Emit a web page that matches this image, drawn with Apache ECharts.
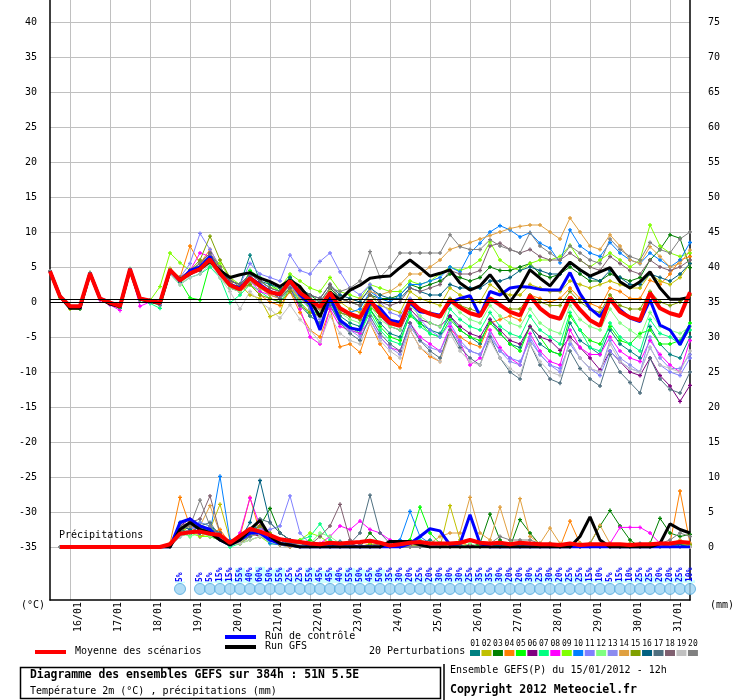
<!DOCTYPE html>
<html>
<head>
<meta charset="utf-8">
<script src="https://cdn.jsdelivr.net/npm/echarts@6/dist/echarts.min.js"></script>
<style>
html, body { margin: 0; padding: 0; background: #fff; }
#main { width: 740px; height: 700px; }
</style>
</head>
<body>
<div id="main"></div>
<script>
// forecast steps every 6h from 15/01 12h, 0..384h
var steps = [];
for (var h = 0; h <= 384; h += 6) steps.push(h);
var dayLabels = ['16/01','17/01','18/01','19/01','20/01','21/01','22/01','23/01','24/01','25/01','26/01','27/01','28/01','29/01','30/01','31/01'];
var tempTicks = [-35, 40, 5];
var precTicks = [0, 75, 5];

var memberColors = ['#008080','#c0c000','#008000','#ff8000','#00ff00','#800080','#00ff80','#ff00ff','#80ff00','#0080ff',
                    '#8080ff','#80ff80','#8c8cf0','#e0a040','#80a000','#006080','#507080','#806070','#c0c0c0','#808080'];

// temperature 2m (°C)
var tMean = [4.4,0.8,-0.6,-0.6, 4.1,0.5,-0.1,-0.6, 4.7,0.5,0.2,-0.1, 4.6,3.1,4.1,4.7, 6.1,4.1,2.4,1.8, 3.4,2.3,1.4,1.1, 3.0,1.3,0.3,-0.7, 1.3,-0.9,-1.7,-2.2, 0.3,-1.6,-3.0,-3.4, 0.2,-1.1,-1.7,-2.1, 0.3,-0.8,-1.6,-2.0, 0.5,-0.4,-1.4,-1.9, 0.9,-0.9,-2.0,-2.4, 0.7,-1.1,-2.6,-3.4, 0.5,-1.4,-2.2,-2.6, 1.3,-0.9,-1.6,-2.0, 1.4];
var tCtrl = [4.4,0.8,-0.7,-0.7, 4.1,0.5,-0.1,-0.6, 4.7,0.5,0.2,-0.1, 4.5,3.0,4.5,5.0, 6.5,4.0,2.5,2.0, 3.5,2.5,1.5,1.0, 3.0,1.0,-0.4,-4.0, 0.7,-2.6,-3.7,-4.0, -0.1,-0.9,-2.6,-2.9, -0.1,-1.4,-1.6,-1.9, -0.1,0.5,0.9,-2.0, 1.5,1.0,2.0,2.2, 2.1,1.8,1.7,1.7, 4.2,1.2,-0.9,-2.1, 0.3,-1.1,-2.3,-2.8, 0.3,-3.3,-4.0,-6.1, -3.3];
var tGfs = [4.4,0.8,-0.9,-0.9, 4.1,0.5,-0.3,-0.7, 4.6,0.4,0.1,-0.2, 4.5,3.2,4.0,4.8, 5.8,4.5,3.5,3.9, 4.2,3.4,2.9,2.2, 3.1,2.2,0.3,-2.1, 1.4,0.3,1.7,2.4, 3.4,3.6,3.7,4.9, 6.0,4.9,3.7,4.1, 4.6,2.7,1.7,2.3, 3.9,2.0,0.0,2.0, 4.6,3.4,2.3,4.1, 5.7,4.6,3.7,4.3, 4.9,2.9,2.0,2.9, 4.3,2.0,0.4,0.4, 0.7];
var t01 = [4.4,0.9,-0.8,-0.9, 4.0,0.6,-0.2,-0.7, 4.6,0.6,0.1,-0.3, 4.3,2.8,4.5,5.5, 7.0,4.5,3.0,2.5, 6.7,3.0,2.0,1.5, 3.5,2.0,0.5,-1.0, 0.5,-2.0,-3.0,-3.5, -1.0,-3.0,-4.5,-5.0, -1.5,-3.0,-4.0,-4.5, -2.0,-4.0,-5.0,-6.0, -2.5,-4.5,-6.0,-6.5, -3.5,-6.0,-7.0,-7.5, -3.0,-5.5,-6.5,-7.5, -4.0,-6.0,-7.0,-8.0, -3.5,-6.0,-7.5,-8.0, -5.0];
var t02 = [4.4,0.7,-1.0,-1.0, 4.2,0.4,-0.3,-0.8, 4.7,0.4,0.1,-0.2, 4.8,3.5,4.0,5.0, 6.5,5.0,3.0,2.5, 1.0,0.5,-2.1,-1.5, 2.5,0.0,-1.5,-2.0, 1.5,0.0,-1.0,-1.5, 1.0,-0.5,-1.0,-1.5, 1.5,0.5,0.0,-0.5, 2.0,1.0,0.5,0.0, 2.5,1.5,1.0,1.0, 2.5,2.0,1.5,1.5, 3.0,2.5,2.0,2.5, 3.0,2.5,2.0,2.0, 4.0,3.0,2.5,3.5, 5.5];
var t03 = [4.4,0.8,-0.7,-0.8, 4.1,0.5,-0.2,-0.6, 4.6,0.5,0.2,-0.2, 4.5,3.0,4.0,4.5, 5.5,4.0,2.0,1.5, 3.0,2.0,1.5,1.0, 3.5,2.0,1.0,0.0, 2.0,0.5,0.0,-0.5, 1.0,0.5,0.5,1.0, 2.5,2.0,2.5,3.0, 4.0,3.5,3.0,3.5, 5.0,4.5,4.5,5.0, 5.5,4.0,3.5,4.0, 5.0,4.0,3.0,3.0, 4.0,3.5,3.0,3.5, 6.0,7.5,9.6,9.1, 4.9];
var t04 = [4.4,0.8,-0.6,-0.7, 4.1,0.5,-0.1,-0.7, 4.7,0.5,0.2,-0.1, 4.5,3.5,8.0,5.5, 7.5,5.0,3.0,1.5, 2.5,1.0,0.0,-0.5, 1.5,-1.5,-4.0,-5.0, -1.0,-6.4,-6.0,-7.2, -3.0,-6.0,-8.0,-9.4, -4.0,-6.5,-7.8,-8.5, -4.0,-5.0,-5.9,-6.4, -3.0,-2.5,-2.0,-2.6, 1.0,0.5,0.0,0.5, 2.0,0.5,-0.2,-0.8, 2.0,1.5,0.5,0.5, 3.1,2.5,4.0,6.0, 6.5];
var t05 = [4.4,0.6,-0.9,-1.0, 4.0,0.4,-0.3,-0.9, 4.5,0.3,0.0,-0.5, 4.5,3.0,0.6,0.3, 5.5,4.0,2.0,1.5, 4.5,3.5,2.5,1.5, 3.5,1.0,-1.0,-2.0, 0.0,-2.5,-3.5,-4.5, -1.0,-3.5,-5.0,-5.5, -2.0,-3.0,-4.5,-5.0, -2.5,-4.0,-5.0,-5.5, -3.0,-4.5,-6.0,-7.0, -3.5,-5.0,-7.0,-7.5, -2.0,-4.0,-5.5,-6.0, -3.5,-5.5,-6.0,-4.5, -4.0,-6.0,-6.0,-5.5, -3.0];
var t06 = [4.4,0.8,-0.8,-0.9, 4.1,0.5,-0.2,-0.8, 4.6,0.4,0.1,-0.2, 4.5,3.0,4.5,5.0, 6.5,4.5,2.5,2.0, 3.0,2.0,1.5,0.5, 2.5,0.5,-0.5,-1.0, 0.5,-1.5,-2.0,-2.5, 0.0,-2.0,-3.5,-4.0, -1.0,-2.5,-3.0,-3.5, -2.0,-3.5,-4.5,-5.0, -2.5,-4.0,-5.5,-6.0, -3.5,-5.0,-5.5,-6.9, -5.0,-6.5,-8.0,-9.7, -7.0,-8.5,-10.0,-10.5, -8.0,-10.5,-12.0,-14.2, -11.9];
var t07 = [4.4,0.8,-0.7,-0.9, 4.1,0.4,-0.2,-0.8, 4.6,0.3,-0.2,-0.9, 4.0,2.5,3.5,4.0, 5.0,3.5,-0.1,1.0, 2.5,1.5,0.5,0.0, 2.0,0.0,-2.0,-3.0, 0.0,-3.0,-4.0,-4.5, -1.5,-4.0,-5.5,-6.0, -1.5,-3.5,-4.5,-5.0, -1.0,-2.5,-3.5,-4.0, -1.5,-3.5,-4.5,-5.0, -2.0,-4.0,-5.0,-6.0, -1.5,-4.0,-6.5,-7.0, -3.0,-5.0,-6.0,-7.0, -2.5,-4.5,-5.0,-6.0, -4.0];
var t08 = [4.4,0.8,-0.8,-0.9, 4.0,0.3,-0.4,-1.2, 4.6,-0.6,0.0,-0.4, 4.5,3.0,4.5,7.0, 6.5,4.0,2.0,1.5, 3.0,1.5,1.0,0.5, 2.0,-1.0,-5.0,-6.0, -1.0,-3.5,-4.0,-4.5, -2.5,-5.0,-6.5,-7.0, -3.0,-5.0,-6.0,-7.0, -3.5,-5.7,-9.0,-8.0, -4.0,-6.5,-8.0,-9.0, -4.5,-7.0,-8.5,-9.0, -4.0,-6.5,-7.5,-7.5, -5.0,-7.0,-8.0,-8.5, -5.5,-7.5,-9.0,-10.0, -5.5];
var t09 = [4.4,0.8,-0.6,-0.6, 4.1,0.5,-0.1,-0.6, 4.7,0.5,0.2,2.2, 7.0,5.6,4.5,5.0, 6.5,5.5,3.5,2.5, 4.0,3.0,2.0,2.0, 4.0,3.0,2.0,1.5, 3.5,1.5,1.0,0.5, 2.5,2.0,1.5,1.5, 3.0,2.5,3.0,4.0, 5.0,4.5,5.0,6.0, 8.6,6.0,5.0,4.5, 5.5,6.0,6.0,6.5, 8.1,6.0,5.0,6.0, 7.0,6.0,5.0,6.0, 11.0,8.0,7.0,6.5, 7.0];
var t10 = [4.4,0.8,-0.7,-0.7, 4.1,0.5,-0.2,-0.7, 4.7,0.5,0.1,-0.2, 4.5,3.0,4.0,5.0, 6.0,4.0,2.5,2.0, 3.5,2.5,1.5,1.0, 3.0,1.5,0.5,-1.0, 1.0,-1.0,-1.5,-1.0, 1.5,0.5,0.0,1.0, 2.5,2.5,3.0,3.5, 5.0,4.3,7.0,8.4, 10.0,10.9,10.3,9.3, 9.9,8.4,7.7,5.6, 10.3,8.0,7.0,6.5, 8.5,7.0,6.0,5.5, 7.0,6.0,5.0,6.0, 8.5];
var t11 = [4.4,0.8,-0.6,-0.7, 4.1,0.5,-0.1,-0.6, 4.7,0.5,0.2,-0.1, 4.5,3.5,5.5,9.8, 7.5,5.0,3.0,2.5, 5.5,4.0,3.5,3.0, 6.7,4.5,4.0,5.8, 7.0,4.3,2.0,1.0, 2.5,0.0,-1.5,-2.0, 0.5,-2.5,-4.0,-5.0, -3.0,-5.5,-7.0,-7.5, -5.0,-7.0,-8.0,-8.5, -5.5,-7.5,-9.0,-9.5, -6.0,-8.0,-9.5,-10.5, -7.0,-8.5,-9.5,-10.0, -6.5,-9.0,-10.0,-10.5, -8.0];
var t12 = [4.4,0.9,-0.5,-0.6, 4.2,0.6,0.0,-0.5, 4.8,0.6,0.3,0.0, 4.0,2.5,4.0,4.5, 6.0,3.5,2.0,1.5, 3.0,2.0,1.0,0.5, 2.5,0.5,-0.5,-1.5, 0.5,-1.5,-2.5,-3.0, -0.5,-2.5,-3.5,-4.0, -0.5,-2.0,-3.0,-3.5, 0.0,-1.5,-2.5,-3.0, -0.5,-2.0,-3.0,-3.5, -1.0,-3.0,-4.0,-4.5, -0.5,-2.5,-3.5,-4.0, -1.0,-3.0,-4.0,-5.0, -1.5,-3.5,-4.0,-4.5, -3.5];
var t13 = [4.4,0.8,-0.7,-0.8, 4.1,0.5,-0.2,-0.7, 4.6,0.4,0.1,-0.3, 4.5,3.0,4.0,5.0, 6.0,4.5,2.5,2.0, 3.5,2.5,1.5,1.0, 2.5,0.5,-1.0,-2.5, -0.5,-3.0,-4.0,-5.0, -2.5,-5.0,-6.5,-7.5, -3.5,-5.5,-6.5,-7.0, -4.0,-6.0,-7.0,-7.5, -4.5,-7.0,-8.5,-9.0, -5.0,-7.5,-9.0,-10.0, -5.5,-8.0,-9.5,-10.0, -5.5,-8.0,-9.0,-10.0, -5.0,-8.0,-9.5,-9.5, -7.5];
var t14 = [4.4,0.8,-0.6,-0.7, 4.1,0.5,-0.1,-0.6, 4.7,0.5,0.2,-0.1, 4.5,3.5,4.5,5.0, 6.0,4.0,2.5,2.0, 3.5,2.0,1.0,0.5, 2.0,0.5,-0.5,-1.0, 1.0,0.0,0.0,0.5, 1.5,1.0,1.5,2.5, 4.0,4.0,5.0,6.0, 7.5,8.0,8.5,9.0, 9.5,10.0,10.5,10.8, 11.0,11.0,10.0,9.0, 12.0,10.0,8.0,7.5, 9.6,8.0,6.0,5.5, 7.9,6.5,5.0,5.5, 7.4];
var t15 = [4.4,0.8,-0.6,-0.6, 4.1,0.5,-0.1,-0.6, 4.7,0.5,0.2,-0.1, 4.5,3.0,4.5,6.0, 9.4,6.0,3.5,2.0, 2.5,1.0,0.5,0.0, 1.5,-0.5,-1.5,-2.0, 0.5,-1.5,-2.0,-2.5, -0.5,-2.0,-2.5,-3.0, 0.0,-1.0,-1.5,-2.0, 0.5,-0.5,-1.0,-1.5, 0.5,-0.5,-1.0,-1.0, 1.0,0.0,-0.5,-0.5, 1.5,0.0,-1.0,-1.5, 1.0,-0.5,-1.0,-1.0, 1.5,0.0,-0.5,0.0, 1.0];
var t16 = [4.4,0.8,-0.7,-0.8, 4.1,0.5,-0.1,-0.7, 4.7,0.5,0.1,-0.2, 4.5,3.0,4.0,4.5, 6.0,4.5,3.0,2.5, 4.0,3.0,2.5,2.0, 3.5,2.0,1.0,0.5, 2.5,1.0,0.5,0.0, 2.0,1.0,0.5,0.5, 2.0,1.5,1.0,1.0, 2.5,2.0,2.0,2.0, 3.0,3.0,3.5,4.5, 5.0,4.5,4.0,4.0, 5.5,4.5,3.5,3.0, 4.5,3.5,2.5,2.5, 4.0,3.5,3.0,4.0, 5.5];
var t17 = [4.4,0.8,-0.6,-0.7, 4.1,0.5,-0.1,-0.6, 4.7,0.5,0.2,-0.1, 4.5,3.0,4.0,5.0, 6.5,4.5,2.5,2.0, 3.5,2.5,1.5,0.5, 2.0,-0.5,-2.0,-3.0, -0.5,-3.0,-4.5,-5.5, -2.0,-4.5,-6.0,-7.0, -3.0,-5.5,-7.0,-8.0, -4.0,-6.5,-8.0,-9.0, -5.0,-8.0,-10.0,-11.0, -6.0,-9.0,-11.0,-11.6, -7.0,-9.5,-11.0,-12.0, -7.5,-10.0,-11.5,-13.0, -8.0,-11.0,-12.5,-13.0, -10.0];
var t18 = [4.4,0.8,-0.6,-0.6, 4.1,0.5,-0.1,-0.6, 4.7,0.5,0.2,-0.1, 4.5,3.5,4.5,5.5, 7.0,5.0,3.0,2.5, 4.0,3.0,2.0,1.5, 3.0,1.5,1.0,0.5, 2.5,0.5,0.0,-0.5, 1.0,0.0,-0.5,0.0, 2.0,1.5,2.0,2.5, 4.5,4.0,4.0,4.5, 8.0,8.4,7.5,7.0, 7.5,6.5,6.0,6.0, 7.0,6.0,5.0,4.5, 6.5,5.5,4.5,4.0, 6.0,5.0,4.5,5.0, 6.0];
var t19 = [4.4,0.8,-0.6,-0.7, 4.1,0.5,-0.1,-0.6, 4.7,0.5,0.2,-0.1, 4.0,2.5,3.5,4.0, 5.5,3.5,1.5,-1.0, 1.5,0.0,-1.0,-2.3, -0.4,-2.5,-4.0,-5.7, -2.0,-4.5,-5.5,-6.0, -3.0,-5.5,-7.0,-8.0, -4.0,-6.5,-7.5,-8.5, -4.5,-7.0,-8.5,-9.0, -5.5,-8.0,-9.5,-10.5, -6.0,-8.5,-10.0,-10.5, -5.5,-8.0,-9.5,-10.0, -6.0,-8.5,-9.5,-10.0, -6.5,-9.0,-9.5,-10.0, -7.0];
var t20 = [4.4,0.8,-0.6,-0.6, 4.1,0.5,-0.1,-0.6, 4.7,0.5,0.2,-0.1, 4.5,3.0,4.5,5.5, 6.5,4.5,2.5,2.0, 3.5,2.5,1.5,1.0, 3.0,1.5,0.5,0.0, 2.0,1.5,2.0,3.0, 7.2,3.5,5.0,7.0, 7.0,7.0,7.0,7.0, 9.6,7.9,7.5,7.5, 8.9,8.0,7.5,7.0, 9.9,8.0,7.0,6.0, 8.0,7.0,6.0,5.5, 9.0,7.5,6.5,6.0, 8.5,7.5,7.0,9.0, 10.0];

// precipitation (mm / 6h)
var pMean = [null,0,0,0,0,0,0,0,0,0,0,0, 0.4,1.9,2.1,2.2, 1.9,1.7,0.6,1.6, 2.6,2.2,1.7,1.1, 0.9,0.7,0.5,0.4, 0.6,0.5,0.6,0.7, 0.9,0.6,0.2,0.4, 0.6,0.7,0.5,0.5, 0.5,0.6,1.0,0.6, 0.5,0.6,0.4,0.6, 0.5,0.4,0.4,0.3, 0.5,0.3,0.4,0.4, 0.4,0.4,0.3,0.4, 0.4,0.5,0.5,0.7, 0.6];
var pCtrl = [null,0,0,0,0,0,0,0,0,0,0,0, 0,3.5,4.0,3.0, 2.5,1.0,0.3,1.0, 2.0,2.0,1.0,0.5, 0.3,0,0,0, 0,0,0,0, 0,0,0,0, 0.5,1.5,2.6,2.3, 0.3,0.5,4.6,0.5, 0,0,0,0, 0,0,0,0, 0,0,0,0, 0,0,0,0, 0,0,0,0, 0];
var pGfs = [null,0,0,0,0,0,0,0,0,0,0,0, 0,2.5,3.5,2.5, 2.0,1.0,0.3,1.0, 2.5,3.8,1.5,0.5, 0.3,0,0,0, 0,0,0,0, 0,0,0.8,0.8, 0.8,0.3,0,0, 0,0,0,0, 0,0,0,0, 0,0,0,0, 0,1.5,4.3,1.0, 0,0,0,0, 0,0.5,3.3,2.5, 2.0];
var p01 = [null,0,0,0,0,0,0,0,0,0,0,0, 0.3,3.5,2.5,2.0, 3.0,2.0,0.5,1.5, 2.5,3.0,1.5,1.0, 0.5,0.3,0,0, 0.5,0.8,0.3,0, 0.3,0.5,0,0, 0.2,0.5,1.0,0.3, 0,0.3,0,0, 0,0.5,0.3,0, 0,0.2,0.5,0, 0,0,0.3,0, 0,0,0,0.5, 0.3,0,0.5,0.3, 0];
var p02 = [null,0,0,0,0,0,0,0,0,0,0,0, 0,2.0,3.0,1.5, 2.5,6.1,1.0,0.5, 2.0,1.5,1.0,0.5, 0.3,0.5,0.3,0, 0,0.3,0,0, 0.5,0,0,0, 0,0.3,0,0, 5.9,1.0,0,0, 0,0,0.3,0, 0,0,0,0.3, 0,0,0,0, 0.3,0,0,0, 0,0.3,0.5,0, 0];
var p03 = [null,0,0,0,0,0,0,0,0,0,0,0, 0.2,2.5,2.0,3.0, 2.0,1.5,0.5,1.0, 2.0,3.0,5.5,2.0, 1.0,0.5,0.3,0, 0.3,0,0,0, 2.0,0.5,0,0, 0,0.5,0,0, 0,0,0,0.5, 4.7,1.0,0,3.9, 2.0,0.3,0,0, 0,0.5,0.5,3.0, 5.2,3.0,1.0,0, 0.5,4.1,2.0,1.5, 1.8];
var p04 = [null,0,0,0,0,0,0,0,0,0,0,0, 0.5,7.1,3.0,1.5, 2.0,2.5,0.5,1.5, 7.1,2.0,1.0,0.5, 0.5,0.3,0,0, 0,0,0.3,0, 0,0.5,0,0, 0.3,0,0,0, 0,0.5,0.3,0, 0,0,0,0.3, 0,0,0.5,0, 3.7,0.5,0,0, 0,0,0,0.3, 0,0,0.5,8.0, 0.5];
var p05 = [null,0,0,0,0,0,0,0,0,0,0,0, 0,1.5,2.0,2.5, 1.5,1.0,0.3,0.5, 1.5,2.0,1.5,1.0, 0.5,0.5,1.0,0.3, 0,0,0.5,0, 0,0,0.3,0, 1.0,5.7,2.0,0.5, 0,0,0,0.3, 0,0.3,0,0, 0,0,0,0, 0.3,0,0,0, 0,0.3,0,0, 0,0,0.3,0.5, 0];
var p06 = [null,0,0,0,0,0,0,0,0,0,0,0, 0.3,3.0,4.0,2.0, 2.5,1.5,0.5,1.0, 2.0,1.5,1.0,0.5, 0.3,0.5,0,0, 0,0.3,0.5,0, 0,0,0,0, 0,0,0.5,0, 0,0,0.3,0, 0,0,0,0, 0,0.3,0,0, 0,0,0,0, 0,0,0.3,0, 0,0,0,0.3, 0];
var p07 = [null,0,0,0,0,0,0,0,0,0,0,0, 0,2.5,1.5,3.5, 3.0,1.0,0,0.5, 1.5,2.5,1.0,0.5, 0.5,1.0,1.5,3.3, 1.0,0.3,0,0, 0,0,0.3,0, 0.5,1.0,0.5,0, 0,0,0,0, 0,0.3,0,0, 0,0,0,0, 0,0,0.3,0, 0,0,0,0, 0,0,0,0.3, 0];
var p08 = [null,0,0,0,0,0,0,0,0,0,0,0, 0,2.0,3.5,1.5, 1.5,2.0,0.5,2.0, 7.0,3.0,1.0,0.5, 0.3,0,0.3,0.5, 1.5,3.0,2.5,3.7, 2.5,2.0,1.0,0.5, 0,0.3,0,0, 0,0,0,0, 0,0,0,0, 0,0.3,0,0, 0,0,0,0, 0.5,2.8,2.8,2.8, 2.0,0.5,0.3,0, 0];
var p09 = [null,0,0,0,0,0,0,0,0,0,0,0, 0.2,3.0,2.0,1.5, 1.5,1.0,0.3,0.5, 1.0,1.5,0.5,0.3, 0.5,1.0,2.0,1.5, 0.5,0.3,0,0, 0,0.3,0,0, 0,0,0,0, 0,0.3,0,0, 0,0,0.5,0, 0,0,0,0, 0,0.3,0,0, 0,0,0,0, 0.5,0,0,0, 0.3];
var p10 = [null,0,0,0,0,0,0,0,0,0,0,0, 0,2.5,3.0,2.5, 2.0,10.1,1.0,0.5, 1.5,2.0,0.5,0.3, 0,0.3,0,0, 0,0,0,0, 0,0,0.5,1.0, 5.1,1.5,0.5,0, 0,0.3,0,0, 0,0,0.3,0, 0,0,0,0, 0,0,0,0, 0,0,0,0, 0,0.3,0,0, 0];
var p11 = [null,0,0,0,0,0,0,0,0,0,0,0, 0,1.5,2.5,3.5, 3.0,1.5,0.5,1.0, 1.5,2.0,2.5,3.0, 7.3,2.0,0.5,0.3, 0,0,0,0, 0,0,0,0, 0,0,0,0.5, 0.3,0,0,0, 0,0,0,0, 0.3,0,0,0, 0,0,0,0, 0,0,0.3,0, 0,0,0,0, 0];
var p12 = [null,0,0,0,0,0,0,0,0,0,0,0, 0,2.0,1.5,2.0, 1.5,1.0,0.3,0.5, 1.0,1.5,1.0,0.5, 0.3,0.5,0.5,2.0, 1.5,0.5,0,0, 0,0,0,0, 0,0.5,0,0, 0,0,0.5,0, 0,0,0,0, 0,0,0.3,0, 0,0,0,0, 0,0,0,0, 0,0,0,0, 0];
var p13 = [null,0,0,0,0,0,0,0,0,0,0,0, 0,2.0,2.5,3.0, 2.5,1.5,0.3,1.0, 2.0,2.5,1.5,1.0, 0.5,0.5,0,0, 0.3,0.5,0,0, 0,0,0,0, 0,0,0.3,0, 0,0,0,0, 0,0,0,0, 0,0,0,0, 0.3,0,0,0, 0,0,0,0, 0,0,0,0, 0];
var p14 = [null,0,0,0,0,0,0,0,0,0,0,0, 0,2.5,3.0,3.0, 5.9,2.0,0.5,0.5, 1.5,2.0,1.0,0.3, 0,0,0,0, 0,0,0,0, 0,0,0,0, 0,0,0.5,1.5, 2.0,2.0,7.1,2.0, 1.0,5.7,1.0,6.9, 1.5,0.5,2.7,0.5, 0,0.5,0.5,3.1, 0.5,0,0,0, 0,0,0.5,1.0, 0.5];
var p15 = [null,0,0,0,0,0,0,0,0,0,0,0, 0,2.0,3.5,2.5, 2.0,1.5,0.5,1.0, 2.0,3.0,2.0,1.0, 0.5,0.3,0,0, 0,0.3,0,0, 0,0,0,0, 0,0.3,0,0, 0,0,0,0, 0,0,0,0.3, 0,0,0,0, 0,0,0,0, 0,0,0.5,0.3, 0,0,0.3,0.5, 0.3];
var p16 = [null,0,0,0,0,0,0,0,0,0,0,0, 0,3.0,2.5,2.0, 2.5,2.0,0.5,1.0, 3.5,9.5,3.5,2.0, 1.0,0.5,0,0, 0,0,0,0, 0,0,0,0, 0,0,0,0, 0,0,0,0, 0,0,0,0, 0,0,0,0, 0,0,0,0, 0,0,0,0, 0,0,0.5,0.3, 0];
var p17 = [null,0,0,0,0,0,0,0,0,0,0,0, 0,2.5,2.0,3.0, 3.5,1.5,0.5,1.0, 1.5,4.0,3.5,2.0, 1.0,0.5,0.3,0, 0.5,0,0.5,2.0, 7.4,2.0,0.5,0, 0,0,0,0, 0,0,0,0, 0,0,0,0, 0,0,0,0, 0,0,0,0, 0,0,0,0, 0,0,0.3,0, 0];
var p18 = [null,0,0,0,0,0,0,0,0,0,0,0, 0,3.0,3.5,4.0, 7.3,2.0,0.5,1.0, 2.0,2.0,1.5,1.0, 0.5,0.5,0.3,1.5, 3.0,6.1,1.0,0.3, 0,0.5,0,0, 0,0,0,0, 0,0,0,0, 0,0,0,0, 0,0,0,0, 0,0,0,0, 0,0,0,0, 0,0,0,0, 0];
var p19 = [null,0,0,0,0,0,0,0,0,0,0,0, 0,1.5,2.0,2.5, 2.0,1.0,0.3,0.5, 1.0,1.5,1.0,0.5, 0.3,0.3,0,0, 0,0,0,0, 0,0,0,0, 0,0,0,0, 0,0,0,0, 0,0,0,0, 0,0,0,0, 0,0,0,0, 0,0,0,0, 0,0,0,0, 0];
var p20 = [null,0,0,0,0,0,0,0,0,0,0,0, 0,2.5,3.0,6.7, 3.0,1.5,0.5,1.0, 2.5,2.0,1.0,0.5, 0.3,0,0,0, 0,0,0,0, 0,0,0,0, 0,0,0,0, 0,0,0,0, 0.5,1.5,1.0,1.0, 1.0,0.5,0,0, 0,0,0,0, 0,0,0,0, 0,0.5,1.0,2.0, 1.5];

// probability of snow (%)
var snowPct = [null,null,null,null,null,null,null,null,null,null,null,null,null, 5,null,5,5,15,15,55,40,60,50,55,25,25,55,45,45,40,55,50,45,50,35,30,20,25,20,30,30,30,25,35,35,30,20,20,30,25,30,20,25,25,15,10,5,15,10,25,25,20,20,25,10];

var tMembers = [t01,t02,t03,t04,t05,t06,t07,t08,t09,t10,t11,t12,t13,t14,t15,t16,t17,t18,t19,t20];
var pMembers = [p01,p02,p03,p04,p05,p06,p07,p08,p09,p10,p11,p12,p13,p14,p15,p16,p17,p18,p19,p20];

var MONO = '"DejaVu Sans Mono", monospace';
var PLUS = 'path://M1,0H2V1H3V2H2V3H1V2H0V1H1Z';

function memberLine(data, k, yIdx) {
  return {
    type: 'line', xAxisIndex: 0, yAxisIndex: yIdx, data: data,
    symbol: PLUS, symbolSize: 4, showAllSymbol: true, silent: true,
    lineStyle: { width: 1, color: memberColors[k] },
    itemStyle: { color: memberColors[k] },
    z: 2
  };
}
function boldLine(data, color, width, yIdx, z) {
  return {
    type: 'line', xAxisIndex: 0, yAxisIndex: yIdx, data: data,
    showSymbol: false, silent: true,
    lineStyle: { width: width, color: color },
    z: z
  };
}

var series = [];
tMembers.forEach(function (t, k) { series.push(memberLine(t, k, 0)); });
pMembers.forEach(function (p, k) { series.push(memberLine(p, k, 1)); });
series[0].markLine = {
  silent: true, symbol: 'none', label: { show: false }, animation: false,
  lineStyle: { color: '#000', width: 1, type: 'solid' },
  data: [{ yAxis: 0 }, { yAxis: 0.4 }]
};
series.push(boldLine(tCtrl, '#0000ff', 3, 0, 3));
series.push(boldLine(tGfs, '#000000', 3, 0, 3));
series.push(boldLine(pCtrl, '#0000ff', 3, 1, 3));
series.push(boldLine(pGfs, '#000000', 3, 1, 3));
series.push(boldLine(tMean, '#ff0000', 4, 0, 4));
series.push(boldLine(pMean, '#ff0000', 4, 1, 4));

series.push({
  type: 'bar', xAxisIndex: 2, yAxisIndex: 4, data: snowPct, barWidth: 10, silent: true,
  itemStyle: { color: '#ccffff' },
  label: {
    show: true, position: 'insideBottom', rotate: 90, align: 'left', verticalAlign: 'middle',
    distance: 1, formatter: '{c}%', color: '#0000ff', fontSize: 8, fontWeight: 'bold', fontFamily: MONO
  },
  z: 2
});
series.push({
  type: 'scatter', xAxisIndex: 2, yAxisIndex: 4, silent: true,
  data: snowPct.map(function (v) { return v == null ? null : -22; }),
  symbol: 'circle', symbolSize: 11,
  itemStyle: { color: '#9cd3f2', borderColor: '#4ba6dc', borderWidth: 1 },
  z: 3
});

// legend / title decorations
var graphics = [
  { type: 'text', left: 59, top: 530, style: { text: 'Précipitations', font: '10px ' + MONO, fill: '#000' }, z: 10 },
  { type: 'text', left: 21, top: 600, style: { text: '(°C)', font: '10px ' + MONO, fill: '#000' } },
  { type: 'text', left: 710, top: 600, style: { text: '(mm)', font: '10px ' + MONO, fill: '#000' } },
  { type: 'rect', shape: { x: 35, y: 650, width: 31, height: 4 }, style: { fill: '#ff0000' } },
  { type: 'text', left: 75, top: 646, style: { text: 'Moyenne des scénarios', font: '10px ' + MONO, fill: '#000' } },
  { type: 'rect', shape: { x: 225, y: 635, width: 31, height: 4 }, style: { fill: '#0000ff' } },
  { type: 'text', left: 265, top: 631, style: { text: 'Run de contrôle', font: '10px ' + MONO, fill: '#000' } },
  { type: 'rect', shape: { x: 225, y: 645, width: 31, height: 4 }, style: { fill: '#000000' } },
  { type: 'text', left: 265, top: 641, style: { text: 'Run GFS', font: '10px ' + MONO, fill: '#000' } },
  { type: 'text', left: 369, top: 646, style: { text: '20 Perturbations', font: '10px ' + MONO, fill: '#000' } },
  { type: 'rect', shape: { x: 20.5, y: 667.5, width: 420, height: 31 }, style: { fill: '#fff', stroke: '#000', lineWidth: 1.5 } },
  { type: 'text', left: 30, top: 670, style: { text: 'Diagramme des ensembles GEFS sur 384h : 51N 5.5E', font: 'bold 11.4px ' + MONO, fill: '#000' } },
  { type: 'text', left: 30, top: 686, style: { text: 'Température 2m (°C) , précipitations (mm)', font: '10px ' + MONO, fill: '#000' } },
  { type: 'line', shape: { x1: 444, y1: 664, x2: 444, y2: 700 }, style: { stroke: '#000', lineWidth: 1.5 } },
  { type: 'text', left: 450, top: 665, style: { text: 'Ensemble GEFS(P) du 15/01/2012 - 12h', font: '10px ' + MONO, fill: '#000' } },
  { type: 'text', left: 450, top: 684, style: { text: 'Copyright 2012 Meteociel.fr', font: 'bold 11.5px ' + MONO, fill: '#000' } }
];
memberColors.forEach(function (c, k) {
  var x = 470 + k * 11.47;
  graphics.push({ type: 'rect', shape: { x: x, y: 650, width: 10, height: 6 }, style: { fill: c } });
  graphics.push({ type: 'text', x: x + 5, y: 644, style: { text: (k < 9 ? '0' : '') + (k + 1), font: '8px ' + MONO, fill: '#000', textAlign: 'center', textVerticalAlign: 'middle' } });
});

var axisFont = { fontFamily: MONO, fontSize: 10, color: '#000' };

var chart = echarts.init(document.getElementById('main'), null, { renderer: 'canvas' });
chart.setOption({
  backgroundColor: '#fff',
  animation: false,
  grid: [
    { left: 50, right: 50, top: 22, height: 525, outerBoundsMode: 'none' },
    { left: 50, right: 50, top: 0, height: 600, outerBoundsMode: 'none' },
    { left: 50, right: 50, top: 556, height: 41.85, outerBoundsMode: 'none' }
  ],
  xAxis: [
    { type: 'category', gridIndex: 0, data: steps, boundaryGap: false, show: false },
    {
      type: 'category', gridIndex: 1, data: steps, boundaryGap: false,
      axisLine: { lineStyle: { color: '#000', width: 1.5 } },
      axisTick: { show: false },
      axisLabel: Object.assign({
        interval: function (i) { return i % 4 === 2; },
        formatter: function (v, i) { return dayLabels[(i - 2) / 4]; },
        rotate: 90, margin: 2, verticalAlign: 'top', padding: [3, 0, 0, 0]
      }, axisFont),
      splitLine: { show: true, interval: function (i) { return i % 4 === 2; }, lineStyle: { color: '#c0c0c0', width: 1 } }
    },
    { type: 'category', gridIndex: 2, data: steps, boundaryGap: false, show: false }
  ],
  yAxis: [
    {
      type: 'value', gridIndex: 0, min: tempTicks[0], max: tempTicks[1], interval: tempTicks[2],
      axisLine: { show: false }, axisTick: { show: false },
      axisLabel: Object.assign({ margin: 13 }, axisFont),
      splitLine: { lineStyle: { color: '#c0c0c0', width: 1 } }
    },
    {
      type: 'value', gridIndex: 0, position: 'right', min: precTicks[0], max: precTicks[1], interval: precTicks[2],
      axisLine: { show: false }, axisTick: { show: false },
      axisLabel: Object.assign({ margin: 18 }, axisFont),
      splitLine: { show: false }
    },
    { type: 'value', gridIndex: 1, min: 0, max: 1, axisLine: { show: true, lineStyle: { color: '#000', width: 1.5 } }, axisTick: { show: false }, axisLabel: { show: false }, splitLine: { show: false } },
    { type: 'value', gridIndex: 1, position: 'right', min: 0, max: 1, axisLine: { show: true, lineStyle: { color: '#000', width: 1.5 } }, axisTick: { show: false }, axisLabel: { show: false }, splitLine: { show: false } },
    { type: 'value', gridIndex: 2, min: -55, max: 100, show: false }
  ],
  graphic: graphics,
  series: series
});
</script>
</body>
</html>
